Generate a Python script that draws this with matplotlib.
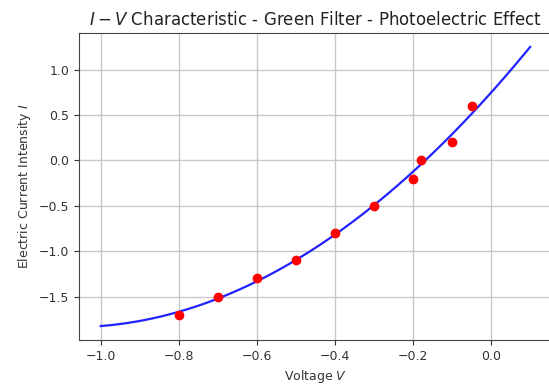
import numpy as np
import matplotlib
matplotlib.use("Agg")
import matplotlib.pyplot as plt

voltage = [-0.8, -0.7, -0.6, -0.5, -0.4, -0.3, -0.2, -0.18, -0.1, -0.05]
current = [-1.7, -1.5, -1.3, -1.1, -0.8, -0.5, -0.2, 0.0, 0.2, 0.6]
fit_range = [-1.0, 0.1]

coef = np.polyfit(voltage, current, 2)
xf = np.linspace(fit_range[0], fit_range[1], 200)
yf = np.polyval(coef, xf)

text_color = '#333333'
fig = plt.figure(figsize=(5.49, 3.88), dpi=100)
ax = fig.add_axes([0.1444, 0.1237, 0.8603, 0.7912])
ax.plot(xf, yf, color='#2222ff', lw=1.6)
ax.scatter(voltage, current, color='r', s=36, zorder=3)
ax.grid(True, color='#c8c8c8', lw=1)
ax.set_axisbelow(True)
ax.set_xticks([-1.0, -0.8, -0.6, -0.4, -0.2, 0.0])
ax.set_yticks([-1.5, -1.0, -0.5, 0.0, 0.5, 1.0])
ax.tick_params(labelsize=9, colors=text_color)
for s in ax.spines.values():
    s.set_color('#444444')
ax.set_xlabel('Voltage $V$', fontsize=9, color=text_color)
ax.set_ylabel('Electric Current Intensity $I$', fontsize=9, color=text_color)
ax.set_title('$I-V$ Characteristic - Green Filter - Photoelectric Effect', fontsize=12, color='#222222')
fig.savefig('out.png', dpi=100)
